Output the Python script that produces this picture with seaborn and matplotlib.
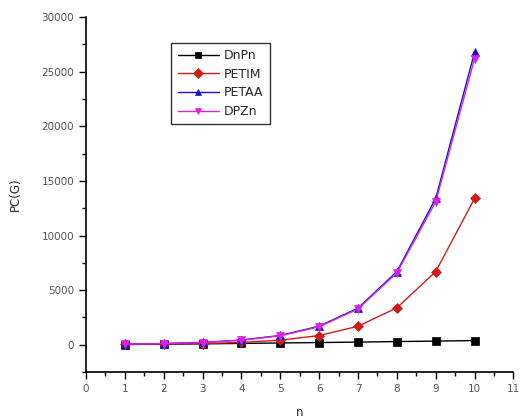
import numpy as np
import pandas as pd
import matplotlib
matplotlib.use("Agg")
import matplotlib.pyplot as plt
import seaborn as sns
from matplotlib.ticker import MultipleLocator

n = [1, 2, 3, 4, 5, 6, 7, 8, 9, 10]
dnpn = [20, 50, 80, 120, 160, 200, 240, 290, 330, 380]
petim = [25, 50, 100, 210, 420, 840, 1690, 3380, 6700, 13400]
petaa = [50, 110, 210, 430, 850, 1700, 3350, 6700, 13400, 26800]
dpzn = [50, 100, 200, 410, 820, 1640, 3280, 6580, 13100, 26200]

series = ["DnPn", "PETIM", "PETAA", "DPZn"]
values = [dnpn, petim, petaa, dpzn]
df = pd.DataFrame({
    "n": n * 4,
    "PC(G)": sum(values, []),
    "series": sum([[s] * len(n) for s in series], []),
})

sns.set_style("white")
plt.rcParams["font.family"] = ["DejaVu Sans"]

fig = plt.figure(figsize=(5.2, 4.18), dpi=100)
ax = fig.add_axes([0.1654, 0.110, 0.822, 0.849])

palette = {"DnPn": "#000000", "PETIM": "#d11a1a", "PETAA": "#1414c8", "DPZn": "#e020e0"}
markers = {"DnPn": "s", "PETIM": "D", "PETAA": "^", "DPZn": "v"}
sns.lineplot(data=df, x="n", y="PC(G)", hue="series", style="series",
             palette=palette, markers=markers, dashes=False,
             markersize=5.5, linewidth=1.0, markeredgewidth=0.5, ax=ax)
for line in ax.lines:
    line.set_markeredgecolor(line.get_color())

ax.set_xlim(0, 11)
ax.set_ylim(-2500, 30000)
ax.xaxis.set_major_locator(MultipleLocator(1))
ax.xaxis.set_minor_locator(MultipleLocator(0.5))
ax.yaxis.set_major_locator(MultipleLocator(5000))
ax.yaxis.set_minor_locator(MultipleLocator(2500))
ax.tick_params(which="major", direction="out", length=5, width=1, color="black",
               labelsize=7.5, labelcolor="#555555", bottom=True, left=True)
ax.tick_params(which="minor", direction="out", length=3, width=1, color="black",
               bottom=True, left=True)
for s in ["top", "right"]:
    ax.spines[s].set_visible(False)
for s in ["left", "bottom"]:
    ax.spines[s].set_color("black")
    ax.spines[s].set_linewidth(1.2)

ax.set_xlabel("n", fontsize=8.5, labelpad=9)
ax.set_ylabel("PC(G)", fontsize=8.5, labelpad=14)

leg = ax.legend(title=None, loc="upper left", bbox_to_anchor=(0.185, 0.945),
                fontsize=9, frameon=True, fancybox=False, edgecolor="black",
                handlelength=3.3, handletextpad=0.4, borderpad=0.5,
                labelspacing=0.45, markerscale=0.9)
leg.get_frame().set_linewidth(1.0)

fig.savefig("out.png", dpi=100)
